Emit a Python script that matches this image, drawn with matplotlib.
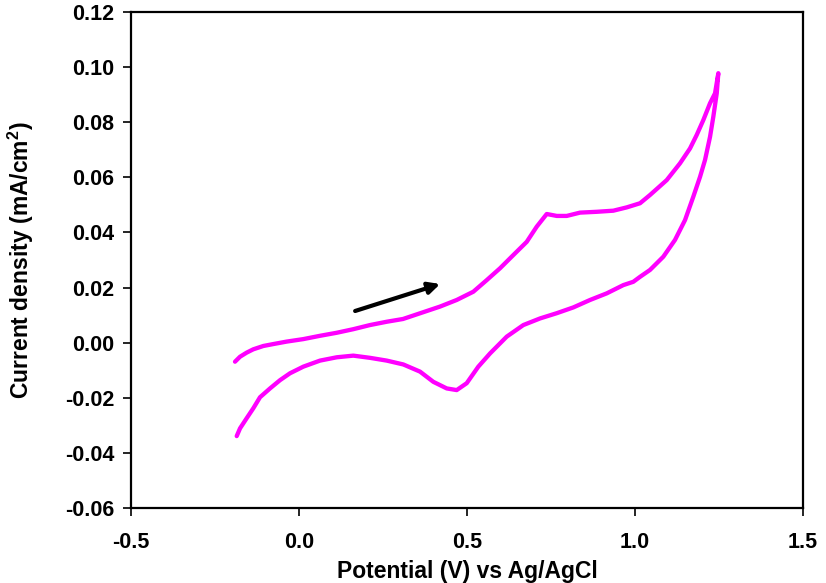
import matplotlib
matplotlib.use("Agg")
import matplotlib.pyplot as plt

plt.rcParams['font.family'] = ['Liberation Sans', 'DejaVu Sans']
plt.rcParams['font.weight'] = 'bold'
plt.rcParams['axes.unicode_minus'] = False
plt.rcParams['mathtext.fontset'] = 'custom'
plt.rcParams['mathtext.rm'] = 'Liberation Sans:bold'
plt.rcParams['mathtext.bf'] = 'Liberation Sans:bold'

# Anodic (forward) sweep
fwd_potential = [-0.1905, -0.1756, -0.1557, -0.1360, -0.1063, -0.0765, -0.0366, 0.0128,
                 0.0625, 0.1122, 0.1616, 0.2113, 0.2610, 0.3095, 0.4196, 0.4693, 0.5188,
                 0.5586, 0.5982, 0.6378, 0.6777, 0.7074, 0.7372, 0.7670, 0.7967, 0.8363,
                 0.8860, 0.9354, 0.9753, 1.0149, 1.0446, 1.0943, 1.1339, 1.1637, 1.1836,
                 1.2033, 1.2232, 1.2381, 1.2479]
fwd_current = [-0.0069, -0.0051, -0.0036, -0.0024, -0.0012, -0.0005, 0.0004, 0.0013,
               0.0025, 0.0036, 0.0049, 0.0064, 0.0076, 0.0086, 0.0131, 0.0155, 0.0185,
               0.0227, 0.0270, 0.0318, 0.0366, 0.0421, 0.0467, 0.0460, 0.0460, 0.0472,
               0.0475, 0.0479, 0.0491, 0.0506, 0.0536, 0.0590, 0.0651, 0.0705, 0.0754,
               0.0808, 0.0869, 0.0905, 0.0978]

# Cathodic (reverse) sweep
rev_potential = [1.2479, 1.2432, 1.2330, 1.2232, 1.2083, 1.1935, 1.1735, 1.1488, 1.1190,
                 1.0842, 1.0446, 1.0149, 0.9949, 0.9652, 0.9158, 0.8661, 0.8164, 0.7670,
                 0.7173, 0.6676, 0.6182, 0.5685, 0.5336, 0.4991, 0.4693, 0.4396, 0.3997,
                 0.3601, 0.3104, 0.2610, 0.2113, 0.1616, 0.1122, 0.0625, 0.0128, -0.0268,
                 -0.0565, -0.0863, -0.1161, -0.1360, -0.1557, -0.1756, -0.1854]
rev_current = [0.0978, 0.0905, 0.0820, 0.0747, 0.0663, 0.0602, 0.0530, 0.0445, 0.0373,
               0.0312, 0.0264, 0.0239, 0.0221, 0.0209, 0.0179, 0.0155, 0.0128, 0.0107,
               0.0088, 0.0064, 0.0022, -0.0039, -0.0087, -0.0147, -0.0172, -0.0166, -0.0142,
               -0.0105, -0.0079, -0.0065, -0.0055, -0.0047, -0.0053, -0.0065, -0.0087, -0.0111,
               -0.0136, -0.0166, -0.0198, -0.0238, -0.0274, -0.0311, -0.0339]

# Sweep-direction arrow (start and end in data units)
arrow_start = (0.167, 0.0115)
arrow_end = (0.420, 0.0213)

x_ticks = [-0.5, 0.0, 0.5, 1.0, 1.5]
y_ticks = [-0.06, -0.04, -0.02, 0.00, 0.02, 0.04, 0.06, 0.08, 0.10, 0.12]

fig = plt.figure(figsize=(8.26, 5.83), dpi=100)
ax = fig.add_axes([0.1586, 0.1286, 0.8136, 0.8508])

potential = fwd_potential + rev_potential[1:]
current = fwd_current + rev_current[1:]
ax.plot(potential, current, color='#ff00ff', lw=3.1,
        solid_capstyle='round', solid_joinstyle='round')

ax.annotate('', xy=arrow_end, xytext=arrow_start,
            arrowprops=dict(arrowstyle='-|>', color='black', lw=3,
                            mutation_scale=17, shrinkA=0, shrinkB=0))

ax.set_xlim(-0.5, 1.5)
ax.set_ylim(-0.06, 0.12)
ax.set_xticks(x_ticks)
ax.set_yticks(y_ticks)
ax.set_xticklabels([f'{v:.1f}' for v in x_ticks])
ax.set_yticklabels([f'{v:.2f}' for v in y_ticks])
ax.tick_params(direction='out', length=6, width=1.2, labelsize=15.5)
ax.tick_params(axis='x', pad=11)
ax.tick_params(axis='y', pad=6)
for lbl in ax.get_xticklabels() + ax.get_yticklabels():
    lbl.set_fontweight('bold')
for s in ax.spines.values():
    s.set_linewidth(1.6)

ax.set_xlabel('Potential (V) vs Ag/AgCl', fontsize=16.5, fontweight='bold', labelpad=5)
ax.set_ylabel(r'Current density (mA/cm$^2$)', fontsize=16.5, fontweight='bold', labelpad=21)

fig.savefig('out.png', dpi=100)
